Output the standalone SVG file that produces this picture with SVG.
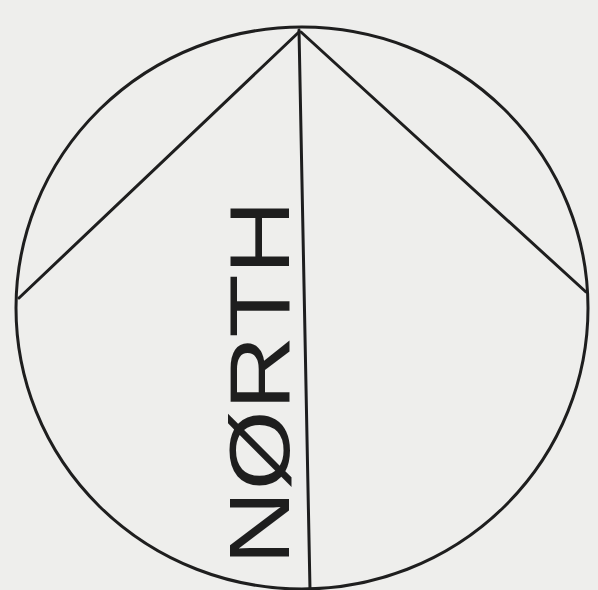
<svg xmlns="http://www.w3.org/2000/svg" width="598" height="590" viewBox="0 0 598 590">
<style>
.ln{fill:none;stroke:#1e1e1e;stroke-width:3;stroke-linecap:round;stroke-linejoin:round}
.lbl{font-family:"Liberation Sans",Arial,sans-serif;font-size:86px;fill:#1e1e1e}
</style>
<rect width="598" height="590" fill="#eeeeec"/>
<g id="circle">
<ellipse class="ln" cx="302" cy="308" rx="286" ry="281"/>
</g>
<g id="connectors">
<line class="ln" x1="299" y1="30" x2="310" y2="590"/>
<line class="ln" x1="299" y1="32" x2="19" y2="298"/>
<line class="ln" x1="301" y1="32" x2="586" y2="292"/>
</g>
<g id="label">
<text class="lbl" transform="translate(289,565) rotate(-90)" x="0" y="0" textLength="365" lengthAdjust="spacingAndGlyphs">NØRTH</text>
</g>
</svg>
